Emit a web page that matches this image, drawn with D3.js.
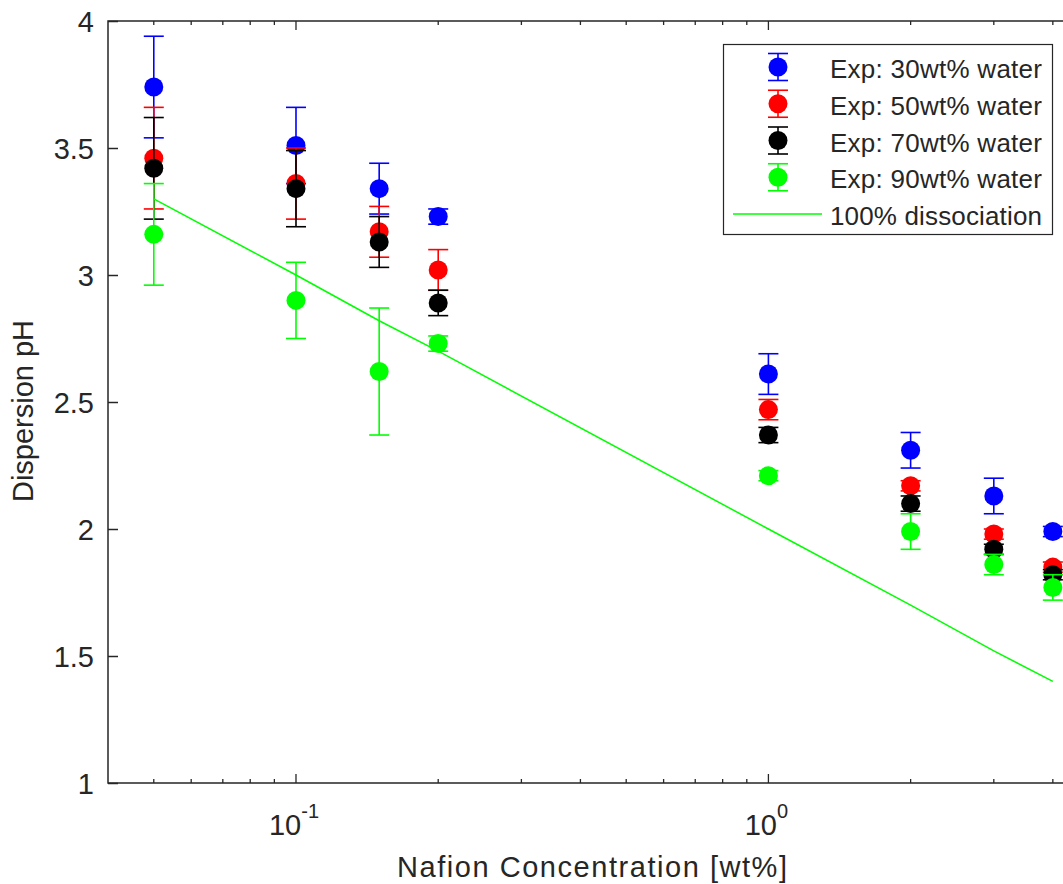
<!DOCTYPE html>
<html lang="en">
<head>
<meta charset="utf-8">
<title>Dispersion pH</title>
<style>
  body { margin: 0; background: #fff; }
  svg { display: block; font-family: "Liberation Sans", Arial, sans-serif; }
  .axis line, .axis path { stroke: #262626; }
  .axis text { fill: #262626; }
</style>
</head>
<body>
<svg id="chart" width="1063" height="884"></svg>
<script src="https://d3js.org/d3.v7.min.js"></script>
<script>
// data
var conc = [0.05, 0.1, 0.15, 0.2, 1, 2, 3, 4];

var ph30 = [3.74, 3.51, 3.34, 3.23, 2.61, 2.31, 2.13, 1.99];
var err30 = [0.20, 0.15, 0.10, 0.03, 0.08, 0.07, 0.07, 0.02];
var ph50 = [3.46, 3.36, 3.17, 3.02, 2.47, 2.17, 1.98, 1.85];
var err50 = [0.20, 0.14, 0.10, 0.08, 0.04, 0.02, 0.02, 0.02];
var ph70 = [3.42, 3.34, 3.13, 2.89, 2.37, 2.10, 1.92, 1.82];
var err70 = [0.20, 0.15, 0.10, 0.05, 0.03, 0.03, 0.02, 0.02];
var ph90 = [3.16, 2.90, 2.62, 2.73, 2.21, 1.99, 1.86, 1.77];
var err90 = [0.20, 0.15, 0.25, 0.03, 0.02, 0.07, 0.04, 0.05];

var dissocPH = [3.30, 3.00, 2.82, 2.70, 2.00, 1.70, 1.52, 1.40];

var seriesNames = ["Exp: 30wt% water", "Exp: 50wt% water", "Exp: 70wt% water", "Exp: 90wt% water"];
var lineName = "100% dissociation";
var yTicks = [1, 1.5, 2, 2.5, 3, 3.5, 4];
var xMajor = [0.1, 1];
var xMinor = [0.05, 0.06, 0.07, 0.08, 0.09, 0.2, 0.3, 0.4, 0.5, 0.6, 0.7, 0.8, 0.9, 2, 3, 4];

var colors = ["#0000ff", "#ff0000", "#000000", "#00ff00"];
var series = [
  { name: seriesNames[0], y: ph30, e: err30, color: colors[0] },
  { name: seriesNames[1], y: ph50, e: err50, color: colors[1] },
  { name: seriesNames[2], y: ph70, e: err70, color: colors[2] },
  { name: seriesNames[3], y: ph90, e: err90, color: colors[3] }
];

var svg = d3.select("#chart");
var pL = 108, pT = 21, pR = 1077, pB = 783;

var x = d3.scaleLog().domain([0.04, 4.5]).range([pL, pR]);
var y = d3.scaleLinear().domain([1, 4]).range([pB, pT]);

// frame
svg.append("path")
  .attr("d", "M" + pL + "," + pT + "H" + pR + "V" + pB + "H" + pL + "Z")
  .attr("fill", "none").attr("stroke", "#262626").attr("stroke-width", 1.5);

// y axis (ticks inside)
var yAxis = svg.append("g").attr("class", "axis")
  .attr("transform", "translate(" + pL + ",0)")
  .call(d3.axisRight(y).tickValues(yTicks).tickSize(10).tickFormat(d3.format("")));
yAxis.select(".domain").remove();
yAxis.selectAll(".tick line").attr("stroke-width", 1.5);
yAxis.selectAll("text")
  .attr("x", -14).attr("dy", "0.36em")
  .attr("text-anchor", "end").attr("font-size", 29);

// x ticks bottom + top, inside
function xTicks(vals, len) {
  svg.append("g").selectAll("line").data(vals).join("line")
    .attr("x1", function(d) { return x(d); }).attr("x2", function(d) { return x(d); })
    .attr("y1", pB).attr("y2", pB - len)
    .attr("stroke", "#262626").attr("stroke-width", 1.3);
  svg.append("g").selectAll("line").data(vals).join("line")
    .attr("x1", function(d) { return x(d); }).attr("x2", function(d) { return x(d); })
    .attr("y1", pT).attr("y2", pT + len)
    .attr("stroke", "#262626").attr("stroke-width", 1.3);
}
xTicks(xMajor, 9);
xTicks(xMinor, 4);

var xl = svg.append("g").attr("class", "axis").selectAll("text").data(xMajor).join("text")
  .attr("x", function(d) { return x(d) - 2; })
  .attr("y", 835)
  .attr("text-anchor", "middle")
  .attr("font-size", 29);
xl.append("tspan").text("10");
xl.append("tspan").attr("dy", -17).attr("font-size", 20)
  .text(function(d) { return String(Math.round(Math.log10(d))); });

// axis labels
svg.append("text").attr("class", "axis")
  .attr("x", 592).attr("y", 877).attr("text-anchor", "middle")
  .attr("font-size", 29).attr("fill", "#262626")
  .attr("textLength", 390).attr("lengthAdjust", "spacing")
  .text("Nafion Concentration [wt%]");

svg.append("text")
  .attr("transform", "translate(33,411) rotate(-90)")
  .attr("text-anchor", "middle").attr("font-size", 29).attr("fill", "#262626")
  .text("Dispersion pH");

// plot contents
var plot = svg.append("g");

series.forEach(function(s) {
  var g = plot.append("g");
  var pts = conc.map(function(c, i) { return { x: c, y: s.y[i], e: s.e[i] }; });
  g.append("g").selectAll("line").data(pts).join("line")
    .attr("x1", function(d) { return x(d.x); }).attr("x2", function(d) { return x(d.x); })
    .attr("y1", function(d) { return y(d.y - d.e); }).attr("y2", function(d) { return y(d.y + d.e); })
    .attr("stroke", s.color).attr("stroke-width", 1.6);
  [1, -1].forEach(function(sg) {
    g.append("g").selectAll("line").data(pts).join("line")
      .attr("x1", function(d) { return x(d.x) - 10; }).attr("x2", function(d) { return x(d.x) + 10; })
      .attr("y1", function(d) { return y(d.y + sg * d.e); }).attr("y2", function(d) { return y(d.y + sg * d.e); })
      .attr("stroke", s.color).attr("stroke-width", 1.6);
  });
  g.append("g").selectAll("circle").data(pts).join("circle")
    .attr("cx", function(d) { return x(d.x); })
    .attr("cy", function(d) { return y(d.y); })
    .attr("r", 9.5)
    .attr("fill", s.color);
});

var line = d3.line().x(function(d) { return x(d[0]); }).y(function(d) { return y(d[1]); });
plot.append("path")
  .datum(conc.map(function(c, i) { return [c, dissocPH[i]]; }))
  .attr("d", line)
  .attr("fill", "none").attr("stroke", "#00ff00").attr("stroke-width", 1.5);

// legend
var lg = svg.append("g");
lg.append("rect").attr("x", 723.5).attr("y", 44.5).attr("width", 329).attr("height", 190)
  .attr("fill", "#fff").attr("stroke", "#262626").attr("stroke-width", 1.2);

var rowY = d3.scalePoint().domain(d3.range(5)).range([67, 214]);
series.forEach(function(s, i) {
  var cy = rowY(i);
  lg.append("line").attr("x1", 778).attr("x2", 778).attr("y1", cy - 13.5).attr("y2", cy + 13.5)
    .attr("stroke", s.color).attr("stroke-width", 1.6);
  [-13.5, 13.5].forEach(function(o) {
    lg.append("line").attr("x1", 768).attr("x2", 788).attr("y1", cy + o).attr("y2", cy + o)
      .attr("stroke", s.color).attr("stroke-width", 1.6);
  });
  lg.append("circle").attr("cx", 778).attr("cy", cy).attr("r", 9.5).attr("fill", s.color);
  lg.append("text").attr("x", 830).attr("y", cy + 11)
    .attr("font-size", 26).attr("fill", "#262626")
    .attr("textLength", 212).attr("lengthAdjust", "spacing")
    .text(s.name);
});
var ly = rowY(4);
lg.append("line").attr("x1", 733).attr("x2", 822).attr("y1", ly).attr("y2", ly)
  .attr("stroke", "#00ff00").attr("stroke-width", 1.5);
lg.append("text").attr("x", 830).attr("y", ly + 11)
  .attr("font-size", 26).attr("fill", "#262626")
  .attr("textLength", 212).attr("lengthAdjust", "spacing")
  .text(lineName);
</script>
</body>
</html>
